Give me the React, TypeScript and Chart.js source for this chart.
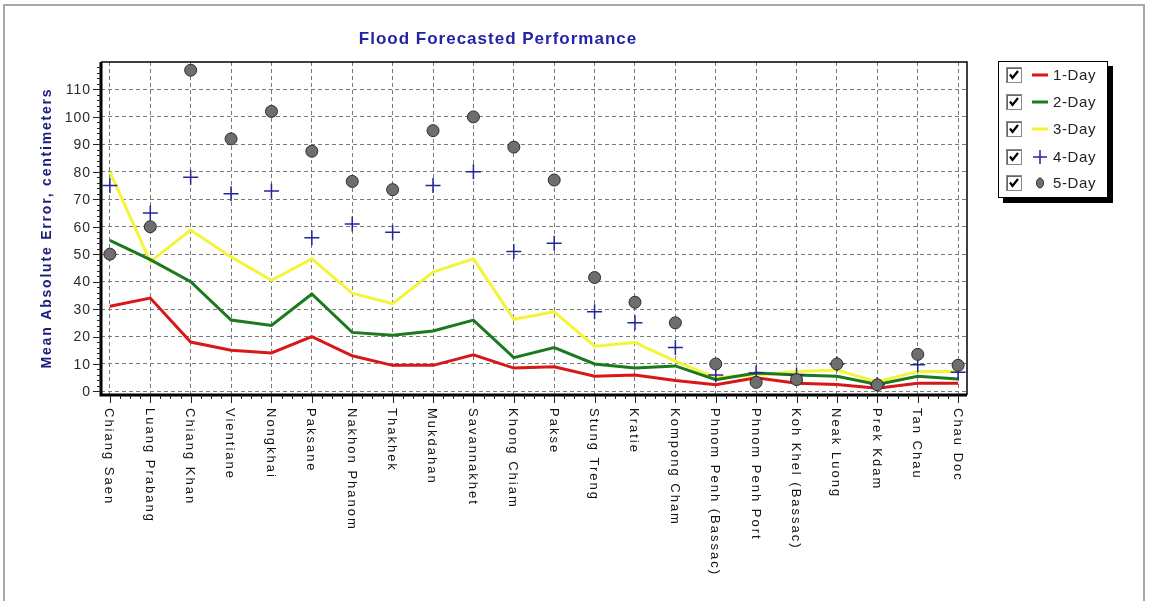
import React, { useEffect, useRef } from "react";
import { Chart, registerables } from "chart.js";

Chart.register(...registerables);

const categories = [
  "Chiang Saen", "Luang Prabang", "Chiang Khan", "Vientiane", "Nongkhai", "Paksane",
  "Nakhon Phanom", "Thakhek", "Mukdahan", "Savannakhet", "Khong Chiam", "Pakse",
  "Stung Treng", "Kratie", "Kompong Cham", "Phnom Penh (Bassac)", "Phnom Penh Port",
  "Koh Khel (Bassac)", "Neak Luong", "Prek Kdam", "Tan Chau", "Chau Doc",
];
const day1 = [31, 34, 18, 15, 14, 20, 13, 9.5, 9.5, 13.3, 8.5, 9, 5.5, 6, 4, 2.4, 5, 3, 2.5, 1.2, 3, 3];
const day2 = [55, 48, 40, 26, 24, 35.5, 21.5, 20.5, 22, 26, 12.3, 16, 10, 8.5, 9.3, 4.3, 6.7, 6, 5.5, 2.5, 5.5, 4.5];
const day3 = [80, 47.3, 58.8, 49, 40.5, 48.3, 35.8, 32, 43.5, 48.3, 26.3, 29, 16.5, 17.8, 11, 5, 6, 7.3, 7.8, 3.5, 7.3, 7.3];
const day4 = [75, 65, 78, 72, 73, 56, 61, 58, 75, 80, 51, 54, 29, 25, 16, 6, 6.7, 6, 10, 2.5, 9.7, 7];
const day5 = [50, 60, 117, 92, 102, 87.5, 76.5, 73.5, 95, 100, 89, 77, 41.5, 32.5, 25, 10, 3.3, 4.3, 10, 2.4, 13.5, 9.5];
const yTicks = [0, 10, 20, 30, 40, 50, 60, 70, 80, 90, 100, 110];
const seriesNames = ["1-Day", "2-Day", "3-Day", "4-Day", "5-Day"];

const TITLE = "Flood Forecasted Performance";
const Y_TITLE = "Mean Absolute Error, centimeters";

const RED = "#d81818";
const GREEN = "#1c7a1c";
const YELLOW = "#f4f43a";
const BLUE = "#24249c";
const GRAYDOT = "#6e6e6e";

const toPts = (arr: number[]) => arr.map((v, i) => ({ x: i, y: v }));

const decorPlugin = {
  id: "decor",
  beforeDatasetsDraw(chart: any) {
    const { ctx, chartArea: a } = chart;
    ctx.save();
    ctx.strokeStyle = "#000";
    ctx.lineWidth = 1.5;
    ctx.beginPath();
    ctx.moveTo(a.left, a.top);
    ctx.lineTo(a.right, a.top);
    ctx.lineTo(a.right, a.bottom);
    ctx.stroke();
    ctx.lineWidth = 3;
    ctx.beginPath();
    ctx.moveTo(a.left, a.top);
    ctx.lineTo(a.left, a.bottom);
    ctx.lineTo(a.right, a.bottom);
    ctx.stroke();
    ctx.restore();
  },
  afterDraw(chart: any) {
    const { ctx, chartArea: a, scales } = chart;
    const xs = scales.x;
    const ys = scales.y;
    ctx.save();
    ctx.strokeStyle = "#222";
    ctx.lineWidth = 1;
    for (let v = 0; v <= 118; v += 2) {
      const y = Math.round(ys.getPixelForValue(v)) + 0.5;
      const major = v % 10 === 0;
      ctx.beginPath();
      ctx.moveTo(a.left - (major ? 8 : 4), y);
      ctx.lineTo(a.left, y);
      ctx.stroke();
    }
    ctx.fillStyle = "#2a2a2a";
    ctx.font = "14px Arial, 'Liberation Sans', sans-serif";
    (ctx as any).letterSpacing = "1px";
    ctx.textAlign = "right";
    ctx.textBaseline = "middle";
    yTicks.forEach((v) => {
      ctx.fillText(String(v), a.left - 10, ys.getPixelForValue(v) + 1);
    });
    for (let i = 0; i < categories.length; i++) {
      const x = Math.round(xs.getPixelForValue(i)) + 0.5;
      ctx.beginPath();
      ctx.moveTo(x, a.bottom);
      ctx.lineTo(x, a.bottom + 8);
      ctx.stroke();
      if (i < categories.length - 1) {
        for (let k = 1; k < 4; k++) {
          const xm = Math.round(xs.getPixelForValue(i + k / 4)) + 0.5;
          ctx.beginPath();
          ctx.moveTo(xm, a.bottom);
          ctx.lineTo(xm, a.bottom + 4);
          ctx.stroke();
        }
      }
    }
    ctx.font = "13px Arial, 'Liberation Sans', sans-serif";
    (ctx as any).letterSpacing = "2px";
    ctx.textAlign = "left";
    ctx.textBaseline = "middle";
    ctx.fillStyle = "#111";
    categories.forEach((c, i) => {
      ctx.save();
      ctx.translate(xs.getPixelForValue(i) - 1, a.bottom + 13);
      ctx.rotate(Math.PI / 2);
      ctx.fillText(c, 0, 0);
      ctx.restore();
    });
    ctx.font = "bold 17px Arial, 'Liberation Sans', sans-serif";
    (ctx as any).letterSpacing = "1px";
    ctx.fillStyle = "#2323a6";
    ctx.textAlign = "center";
    ctx.textBaseline = "middle";
    ctx.fillText(TITLE, 498, 39);
    ctx.font = "bold 14px Arial, 'Liberation Sans', sans-serif";
    (ctx as any).letterSpacing = "1.8px";
    ctx.fillStyle = "#1c1c7c";
    ctx.save();
    ctx.translate(47, 228);
    ctx.rotate(-Math.PI / 2);
    ctx.fillText(Y_TITLE, 0, 0);
    ctx.restore();
    (ctx as any).letterSpacing = "0px";
    ctx.restore();
  },
};

function CheckBox() {
  return (
    <svg width="16" height="16" style={{ position: "absolute", left: 0, top: 0 }}>
      <rect x="0.5" y="0.5" width="15" height="15" fill="#fff" stroke="#8a8a8a" />
      <line x1="1.5" y1="1" x2="1.5" y2="15" stroke="#666" />
      <line x1="1" y1="1.5" x2="15" y2="1.5" stroke="#666" />
      <polyline points="4,7.5 6.5,11 12,4" fill="none" stroke="#000" strokeWidth="2.2" />
    </svg>
  );
}

function Sample({ idx }: { idx: number }) {
  if (idx < 3) {
    const col = [RED, GREEN, YELLOW][idx];
    return (
      <svg width="18" height="16" style={{ position: "absolute", left: 25, top: 0 }}>
        <line x1="1" y1="8" x2="17" y2="8" stroke={col} strokeWidth="3" />
      </svg>
    );
  }
  if (idx === 3) {
    return (
      <svg width="18" height="16" style={{ position: "absolute", left: 25, top: 0 }}>
        <line x1="2" y1="8" x2="16" y2="8" stroke={BLUE} strokeWidth="1.5" />
        <line x1="9" y1="1" x2="9" y2="15" stroke={BLUE} strokeWidth="1.5" />
      </svg>
    );
  }
  return (
    <svg width="18" height="16" style={{ position: "absolute", left: 25, top: 0 }}>
      <ellipse cx="9" cy="8" rx="3.5" ry="5" fill={GRAYDOT} stroke="#333" strokeWidth="1" />
    </svg>
  );
}

export default function App() {
  const ref = useRef<HTMLCanvasElement | null>(null);
  useEffect(() => {
    document.body.style.margin = "0";
    const canvas = ref.current;
    if (!canvas) return;
    const chart = new Chart(canvas, {
      type: "line",
      data: {
        datasets: [
          { label: seriesNames[0], data: toPts(day1), borderColor: RED, borderWidth: 3, pointRadius: 0, tension: 0, order: 3 },
          { label: seriesNames[1], data: toPts(day2), borderColor: GREEN, borderWidth: 3, pointRadius: 0, tension: 0, order: 4 },
          { label: seriesNames[2], data: toPts(day3), borderColor: YELLOW, borderWidth: 3, pointRadius: 0, tension: 0, order: 5 },
          {
            label: seriesNames[3], data: toPts(day4), showLine: false, pointStyle: "cross",
            pointRadius: 7.5, borderColor: BLUE, pointBorderColor: BLUE, pointBorderWidth: 1.5, order: 2,
          },
          {
            label: seriesNames[4], data: toPts(day5), showLine: false, pointStyle: "circle",
            pointRadius: 6, pointBackgroundColor: GRAYDOT, pointBorderColor: "#2c2c2c", pointBorderWidth: 1, order: 1,
          },
        ] as any,
      },
      options: {
        responsive: false,
        animation: false,
        layout: { padding: { left: 101, top: 62, right: 183, bottom: 206 } },
        plugins: { legend: { display: false }, title: { display: false }, tooltip: { enabled: false } },
        scales: {
          x: {
            type: "linear",
            min: -0.22,
            max: 21.22,
            afterBuildTicks: (s: any) => { s.ticks = categories.map((_, i) => ({ value: i })); },
            ticks: { display: false },
            grid: { color: "#7a7a7a", lineWidth: 1, drawTicks: false },
            border: { display: false, dash: [4, 3] },
          },
          y: {
            type: "linear",
            min: -1.3,
            max: 120,
            afterBuildTicks: (s: any) => { s.ticks = yTicks.map((v) => ({ value: v })); },
            ticks: { display: false },
            grid: { color: "#7a7a7a", lineWidth: 1, drawTicks: false },
            border: { display: false, dash: [4, 3] },
          },
        },
      } as any,
      plugins: [decorPlugin],
    });
    return () => chart.destroy();
  }, []);

  const rowCenters = [75, 102, 129, 157, 183];
  return (
    <div style={{ position: "fixed", left: 0, top: 0, width: 1150, height: 601, background: "#fff", overflow: "hidden" }}>
      <div
        style={{
          position: "absolute", left: 3, top: 4, width: 1138, height: 620,
          borderTop: "2px solid #a8a8a8", borderLeft: "2px solid #a8a8a8", borderRight: "2px solid #a8a8a8",
        }}
      />
      <canvas ref={ref} width={1150} height={601} style={{ position: "absolute", left: 0, top: 0 }} />
      <div
        style={{
          position: "absolute", left: 998, top: 61, width: 108, height: 135,
          border: "1px solid #000", background: "#fff", boxShadow: "5px 5px 0 #000",
          fontFamily: "Arial, 'Liberation Sans', sans-serif",
        }}
      >
        {seriesNames.map((n, i) => (
          <div key={n} style={{ position: "absolute", left: 7, top: rowCenters[i] - 62 - 8, width: 100, height: 16 }}>
            <CheckBox />
            <Sample idx={i} />
            <span style={{ position: "absolute", left: 47, top: -2, fontSize: 15, lineHeight: "19px", color: "#222", letterSpacing: "0.6px" }}>
              {n}
            </span>
          </div>
        ))}
      </div>
    </div>
  );
}
